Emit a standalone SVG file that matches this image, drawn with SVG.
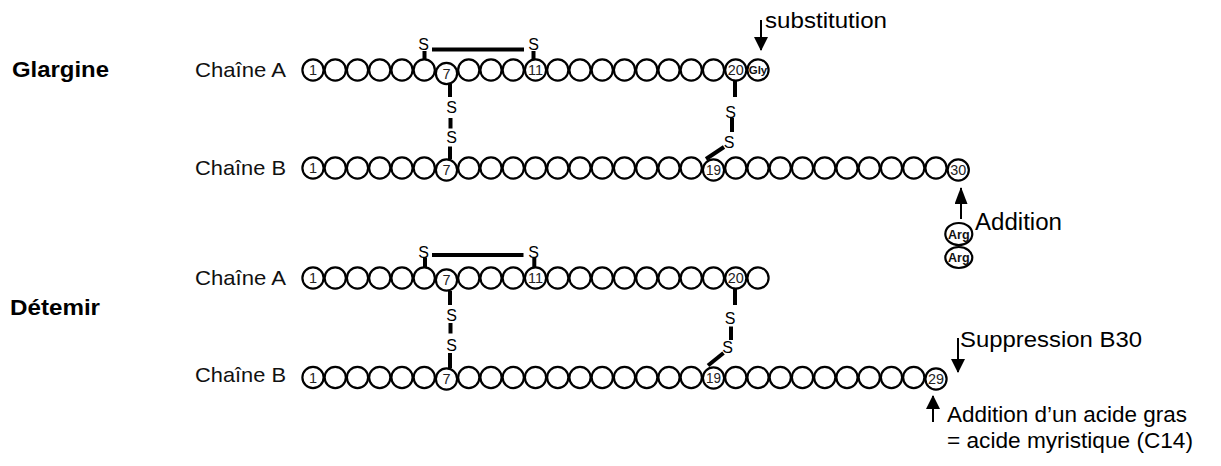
<svg xmlns="http://www.w3.org/2000/svg" xmlns:xlink="http://www.w3.org/1999/xlink" width="1221" height="466" viewBox="0 0 1221 466">
<style>
text{font-family:"Liberation Sans",Arial,sans-serif;fill:#000}
.title{font-size:22px;font-weight:bold}
.lab{font-size:21px;fill:#111}
.ann{font-size:22px;fill:#000}
.aa{fill:#fff;stroke:#000;stroke-width:2.2}
.num{font-size:14.5px;fill:#222;text-anchor:middle}
.res{font-size:11.5px;font-weight:bold;fill:#111;text-anchor:middle}
.s{font-size:16px;fill:#000;text-anchor:middle}
.bond{stroke:#000;stroke-width:4;fill:none}
.arrow{stroke:#000;stroke-width:2;fill:none}
</style>
<defs>
<circle id="c" class="aa" r="10.6"/>
<marker id="ah" markerUnits="userSpaceOnUse" markerWidth="14" markerHeight="14" refX="13" refY="7" orient="auto" viewBox="0 0 14 14">
<path d="M0,0 L14,7 L0,14 z" fill="#000"/>
</marker>
<marker id="ah2" markerUnits="userSpaceOnUse" markerWidth="17" markerHeight="13" refX="16" refY="6.5" orient="auto" viewBox="0 0 17 13">
<path d="M0,0 L17,6.5 L0,13 z" fill="#000"/>
</marker>
</defs>
<rect width="1221" height="466" fill="#fff"/>

<g id="title-glargine"><text class="title" x="12" y="77" textLength="97" lengthAdjust="spacingAndGlyphs">Glargine</text></g>
<g id="title-detemir"><text class="title" x="10" y="315" textLength="90" lengthAdjust="spacingAndGlyphs">Détemir</text></g>

<g id="glargine-chainA">
<text class="lab" x="195" y="77" textLength="91" lengthAdjust="spacingAndGlyphs">Chaîne A</text>
<use href="#c" x="313" y="70"/><use href="#c" x="335.25" y="70"/><use href="#c" x="357.5" y="70"/><use href="#c" x="379.75" y="70"/><use href="#c" x="402" y="70"/><use href="#c" x="424.25" y="70"/><use href="#c" x="446.5" y="73.5"/><use href="#c" x="468.75" y="70"/><use href="#c" x="491" y="70"/><use href="#c" x="513.25" y="70"/><use href="#c" x="535.5" y="70"/><use href="#c" x="557.75" y="70"/><use href="#c" x="580" y="70"/><use href="#c" x="602.25" y="70"/><use href="#c" x="624.5" y="70"/><use href="#c" x="646.75" y="70"/><use href="#c" x="669" y="70"/><use href="#c" x="691.25" y="70"/><use href="#c" x="713.5" y="70"/><use href="#c" x="735.75" y="70"/><use href="#c" x="758" y="70"/>
<text class="num" x="313" y="75">1</text>
<text class="num" x="446.5" y="78.5">7</text>
<text class="num" x="535.5" y="75" textLength="15" lengthAdjust="spacingAndGlyphs">11</text>
<text class="num" x="735.75" y="75" textLength="16" lengthAdjust="spacingAndGlyphs">20</text>
<text class="res" x="758" y="74">Gly</text>
</g>

<g id="glargine-chainB">
<text class="lab" x="195" y="175" textLength="91" lengthAdjust="spacingAndGlyphs">Chaîne B</text>
<use href="#c" x="313" y="168"/><use href="#c" x="335.25" y="168"/><use href="#c" x="357.5" y="168"/><use href="#c" x="379.75" y="168"/><use href="#c" x="402" y="168"/><use href="#c" x="424.25" y="168"/><use href="#c" x="446.5" y="170"/><use href="#c" x="468.75" y="168"/><use href="#c" x="491" y="168"/><use href="#c" x="513.25" y="168"/><use href="#c" x="535.5" y="168"/><use href="#c" x="557.75" y="168"/><use href="#c" x="580" y="168"/><use href="#c" x="602.25" y="168"/><use href="#c" x="624.5" y="168"/><use href="#c" x="646.75" y="168"/><use href="#c" x="669" y="168"/><use href="#c" x="691.25" y="168"/><use href="#c" x="713.5" y="170"/><use href="#c" x="735.75" y="168"/><use href="#c" x="758" y="168"/><use href="#c" x="780.25" y="168"/><use href="#c" x="802.5" y="168"/><use href="#c" x="824.75" y="168"/><use href="#c" x="847" y="168"/><use href="#c" x="869.25" y="168"/><use href="#c" x="891.5" y="168"/><use href="#c" x="913.75" y="168"/><use href="#c" x="936" y="168"/><use href="#c" x="958.25" y="170"/>
<text class="num" x="313" y="173">1</text>
<text class="num" x="446.5" y="175">7</text>
<text class="num" x="713.5" y="175" textLength="15" lengthAdjust="spacingAndGlyphs">19</text>
<text class="num" x="958.25" y="175" textLength="16" lengthAdjust="spacingAndGlyphs">30</text>
</g>

<g id="arg-arg">
<ellipse class="aa" cx="958.8" cy="234" rx="13.5" ry="11"/>
<ellipse class="aa" cx="958.8" cy="257.5" rx="13.5" ry="10.5"/>
<text class="res" x="958.8" y="238.5" style="font-size:12.5px">Arg</text>
<text class="res" x="958.8" y="262" style="font-size:12.5px">Arg</text>
</g>

<g id="detemir-chainA">
<text class="lab" x="195" y="285" textLength="91" lengthAdjust="spacingAndGlyphs">Chaîne A</text>
<use href="#c" x="313" y="278"/><use href="#c" x="335.25" y="278"/><use href="#c" x="357.5" y="278"/><use href="#c" x="379.75" y="278"/><use href="#c" x="402" y="278"/><use href="#c" x="424.25" y="278"/><use href="#c" x="446.5" y="280"/><use href="#c" x="468.75" y="278"/><use href="#c" x="491" y="278"/><use href="#c" x="513.25" y="278"/><use href="#c" x="535.5" y="278"/><use href="#c" x="557.75" y="278"/><use href="#c" x="580" y="278"/><use href="#c" x="602.25" y="278"/><use href="#c" x="624.5" y="278"/><use href="#c" x="646.75" y="278"/><use href="#c" x="669" y="278"/><use href="#c" x="691.25" y="278"/><use href="#c" x="713.5" y="278"/><use href="#c" x="735.75" y="278"/><use href="#c" x="758" y="278"/>
<text class="num" x="313" y="283">1</text>
<text class="num" x="446.5" y="285">7</text>
<text class="num" x="535.5" y="283" textLength="15" lengthAdjust="spacingAndGlyphs">11</text>
<text class="num" x="735.75" y="283" textLength="16" lengthAdjust="spacingAndGlyphs">20</text>
</g>

<g id="detemir-chainB">
<text class="lab" x="195" y="382" textLength="91" lengthAdjust="spacingAndGlyphs">Chaîne B</text>
<use href="#c" x="313" y="377.5"/><use href="#c" x="335.25" y="377.5"/><use href="#c" x="357.5" y="377.5"/><use href="#c" x="379.75" y="377.5"/><use href="#c" x="402" y="377.5"/><use href="#c" x="424.25" y="377.5"/><use href="#c" x="446.5" y="379"/><use href="#c" x="468.75" y="377.5"/><use href="#c" x="491" y="377.5"/><use href="#c" x="513.25" y="377.5"/><use href="#c" x="535.5" y="377.5"/><use href="#c" x="557.75" y="377.5"/><use href="#c" x="580" y="377.5"/><use href="#c" x="602.25" y="377.5"/><use href="#c" x="624.5" y="377.5"/><use href="#c" x="646.75" y="377.5"/><use href="#c" x="669" y="377.5"/><use href="#c" x="691.25" y="377.5"/><use href="#c" x="713.5" y="378"/><use href="#c" x="735.75" y="377.5"/><use href="#c" x="758" y="377.5"/><use href="#c" x="780.25" y="377.5"/><use href="#c" x="802.5" y="377.5"/><use href="#c" x="824.75" y="377.5"/><use href="#c" x="847" y="377.5"/><use href="#c" x="869.25" y="377.5"/><use href="#c" x="891.5" y="377.5"/><use href="#c" x="913.75" y="377.5"/><use href="#c" x="936" y="379"/>
<text class="num" x="313" y="382.5">1</text>
<text class="num" x="446.5" y="384">7</text>
<text class="num" x="713.5" y="383" textLength="15" lengthAdjust="spacingAndGlyphs">19</text>
<text class="num" x="936" y="384" textLength="16" lengthAdjust="spacingAndGlyphs">29</text>
</g>

<g id="annotations">
<text class="ann" x="765" y="28" textLength="122" lengthAdjust="spacingAndGlyphs">substitution</text>
<text class="ann" x="975" y="230" style="font-size:23px" textLength="87" lengthAdjust="spacingAndGlyphs">Addition</text>
<text class="ann" x="960" y="347" textLength="182" lengthAdjust="spacingAndGlyphs">Suppression B30</text>
<text class="ann" x="947" y="422" textLength="240" lengthAdjust="spacingAndGlyphs">Addition d’un acide gras</text>
<text class="ann" x="947" y="448" textLength="246" lengthAdjust="spacingAndGlyphs">= acide myristique (C14)</text>
</g>

<g id="connectors">
<line class="bond" x1="424.5" y1="51" x2="424.5" y2="59.5"/>
<line class="bond" x1="533.5" y1="51" x2="533.5" y2="59.5"/>
<line class="bond" x1="432" y1="49.5" x2="524" y2="49.5"/>
<text class="s" x="423.5" y="50">S</text>
<text class="s" x="533.5" y="50">S</text>
<line class="bond" x1="450" y1="84" x2="450" y2="97"/>
<text class="s" x="451.5" y="112.5">S</text>
<line class="bond" x1="450.5" y1="118" x2="450.5" y2="128.5"/>
<text class="s" x="451.5" y="142.5">S</text>
<line class="bond" x1="450" y1="146.5" x2="450" y2="159"/>
<line class="bond" x1="735" y1="81" x2="735" y2="97"/>
<text class="s" x="730.5" y="117.5">S</text>
<line class="bond" x1="732" y1="118" x2="732" y2="132"/>
<text class="s" x="729" y="147.5">S</text>
<line class="bond" x1="724" y1="147" x2="706" y2="159"/>
<line class="bond" x1="425" y1="257.5" x2="425" y2="267.5"/>
<line class="bond" x1="534.3" y1="257.5" x2="534.3" y2="267.5"/>
<line class="bond" x1="432" y1="255" x2="523.5" y2="255"/>
<text class="s" x="423.5" y="258">S</text>
<text class="s" x="533.5" y="258">S</text>
<line class="bond" x1="450" y1="291" x2="450" y2="305"/>
<text class="s" x="451.5" y="321">S</text>
<line class="bond" x1="450.5" y1="323" x2="450.5" y2="333.5"/>
<text class="s" x="451.5" y="351">S</text>
<line class="bond" x1="450" y1="353" x2="450" y2="368"/>
<line class="bond" x1="735" y1="289" x2="735" y2="305"/>
<text class="s" x="730" y="324">S</text>
<line class="bond" x1="731" y1="326.5" x2="731" y2="340"/>
<text class="s" x="727.5" y="353">S</text>
<line class="bond" x1="723.5" y1="353" x2="708" y2="365.5"/>
<line class="arrow" x1="761" y1="20" x2="761" y2="50" marker-end="url(#ah)"/>
<line class="arrow" x1="961" y1="219" x2="961" y2="188" marker-end="url(#ah2)"/>
<line class="arrow" x1="958" y1="338" x2="958" y2="372" marker-end="url(#ah)"/>
<line class="arrow" x1="933" y1="422" x2="933" y2="396" marker-end="url(#ah)"/>
</g>
</svg>
